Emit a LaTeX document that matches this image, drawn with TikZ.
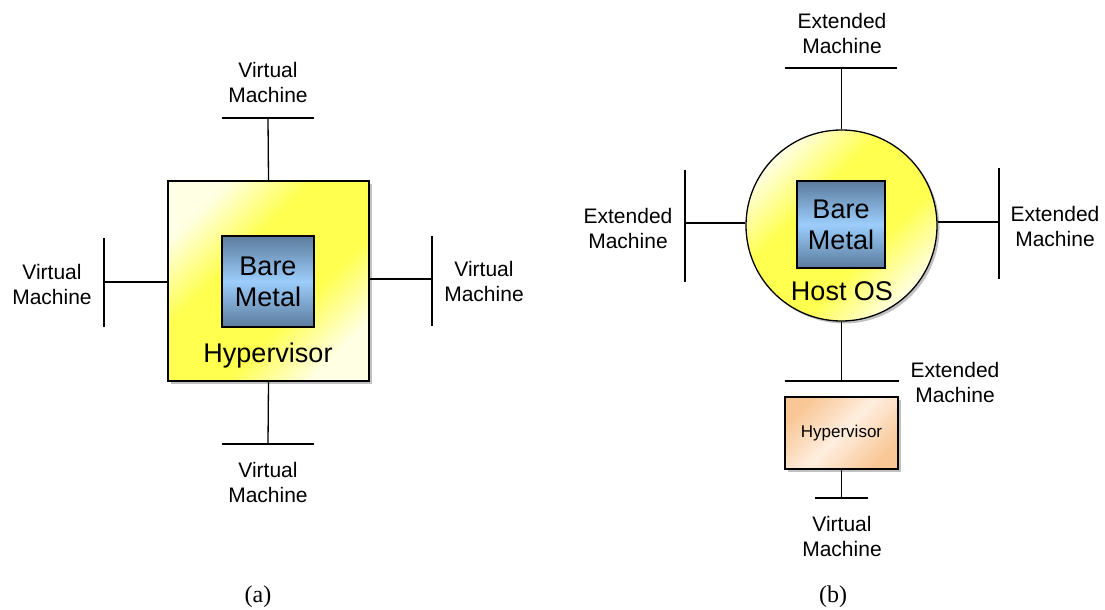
\documentclass[tikz,border=0pt]{standalone}
\usepackage{fontspec}
\setmainfont{Liberation Serif}
\setsansfont{Liberation Sans}
\usetikzlibrary{shadows}

\definecolor{ylwBright}{HTML}{FFFF50}
\definecolor{ylwPale}{HTML}{FFFFE4}
\definecolor{steelDark}{HTML}{5B7B9D}
\definecolor{steelLight}{HTML}{9CCDFB}
\definecolor{peachDeep}{HTML}{F9C796}
\definecolor{peachPale}{HTML}{FEEEDF}

% diagonal yellow band: pale corners, broad bright middle
\pgfdeclareverticalshading{yellowband}{100bp}{%
  color(0bp)=(ylwPale); color(25bp)=(ylwPale); color(40bp)=(ylwBright);
  color(60bp)=(ylwBright); color(75bp)=(ylwPale); color(100bp)=(ylwPale)}
\pgfdeclareverticalshading{peachband}{100bp}{%
  color(0bp)=(peachDeep); color(25bp)=(peachDeep); color(50bp)=(peachPale);
  color(75bp)=(peachDeep); color(100bp)=(peachDeep)}

\begin{document}
\begin{tikzpicture}[x=1pt,y=-1pt,
  line width=1.3pt,
  shadowed/.style={drop shadow={shadow xshift=2.5pt,shadow yshift=-2.5pt,opacity=0.35,fill=black!70}},
  yellowfill/.style={shading=yellowband,shading angle=45},
  hvbox/.style={draw,shadowed,yellowfill,minimum width=201pt,minimum height=200pt,inner sep=0pt},
  hostcircle/.style={circle,draw,shadowed,yellowfill,minimum size=191pt,inner sep=0pt},
  metal/.style={draw,top color=steelDark,bottom color=steelDark,middle color=steelLight,
    font=\sffamily\fontsize{27}{31}\selectfont,align=center,inner sep=0pt},
  hvsmall/.style={draw,shadowed,shading=peachband,shading angle=45,
    minimum width=113pt,minimum height=72pt,inner sep=0pt,
    font=\sffamily\fontsize{17}{20}\selectfont},
  biglabel/.style={font=\sffamily\fontsize{27}{31}\selectfont,inner sep=0pt},
  vmlabel/.style={font=\sffamily\fontsize{21}{25}\selectfont,align=center,inner sep=0pt},
  caption/.style={font=\fontsize{24}{28}\selectfont,inner sep=0pt}
]
\useasboundingbox (0,0) rectangle (1105,610);

% ---------- (a) type 1 hypervisor ----------
\node[hvbox] (hyp) at (268.5,281) {};
\node[metal,minimum width=92pt,minimum height=91pt] (bmA) at (268,281.5) {Bare\\Metal};
\node[biglabel] (hypLbl) at (268,356) {Hypervisor};

\coordinate (aTop) at (268,118);
\coordinate (aBot) at (268,444);
\coordinate (aLeft) at (104,282);
\coordinate (aRight) at (432,279);

\draw (hyp.north) -- (aTop);
\draw ([xshift=-46pt]aTop) -- ([xshift=46pt]aTop);
\draw (hyp.south) -- (aBot);
\draw ([xshift=-46pt]aBot) -- ([xshift=46pt]aBot);
\draw (hyp.west |- aLeft) -- (aLeft);
\draw ([yshift=44pt]aLeft) -- ([yshift=-45pt]aLeft);
\draw (hyp.east |- aRight) -- (aRight);
\draw ([yshift=43pt]aRight) -- ([yshift=-47pt]aRight);

\node[vmlabel] (vmTop) at (268,82) {Virtual\\Machine};
\node[vmlabel] (vmBot) at (268,482) {Virtual\\Machine};
\node[vmlabel] (vmLeft) at (52,284) {Virtual\\Machine};
\node[vmlabel] (vmRight) at (484,281) {Virtual\\Machine};

\node[caption] (capA) at (258,597) {(a)};

% ---------- (b) hosted hypervisor ----------
\node[hostcircle] (host) at (841.5,225.5) {};
\node[metal,minimum width=88pt,minimum height=87pt] (bmB) at (841,224.5) {Bare\\Metal};
\node[biglabel] (hostLbl) at (842,291) {Host OS};

\coordinate (bTop) at (841.5,68);
\coordinate (bBot) at (841.5,381);
\coordinate (bLeft) at (685,223);
\coordinate (bRight) at (999,222);

\draw (host.north) -- (bTop);
\draw ([xshift=-57pt]bTop) -- ([xshift=55pt]bTop);
\draw (host.south) -- (bBot);
\draw ([xshift=-57pt]bBot) -- ([xshift=57pt]bBot);
\draw (host.west |- bLeft) -- (bLeft);
\draw ([yshift=53pt]bLeft) -- ([yshift=-59pt]bLeft);
\draw (host.east |- bRight) -- (bRight);
\draw ([yshift=54pt]bRight) -- ([yshift=-57pt]bRight);

\node[hvsmall] (hypB) at (841.5,433) {Hypervisor};
\coordinate (hvTail) at (841.5,498);
\draw (hypB.south) -- (hvTail);
\draw ([xshift=-27pt]hvTail) -- ([xshift=26pt]hvTail);

\node[vmlabel] (emTop) at (842,33) {Extended\\Machine};
\node[vmlabel] (emLeft) at (628,228) {Extended\\Machine};
\node[vmlabel] (emRight) at (1055,226) {Extended\\Machine};
\node[vmlabel] (emBot) at (955,382) {Extended\\Machine};
\node[vmlabel] (vmB) at (842,536) {Virtual\\Machine};

\node[caption] (capB) at (833,597) {(b)};
\end{tikzpicture}
\end{document}
